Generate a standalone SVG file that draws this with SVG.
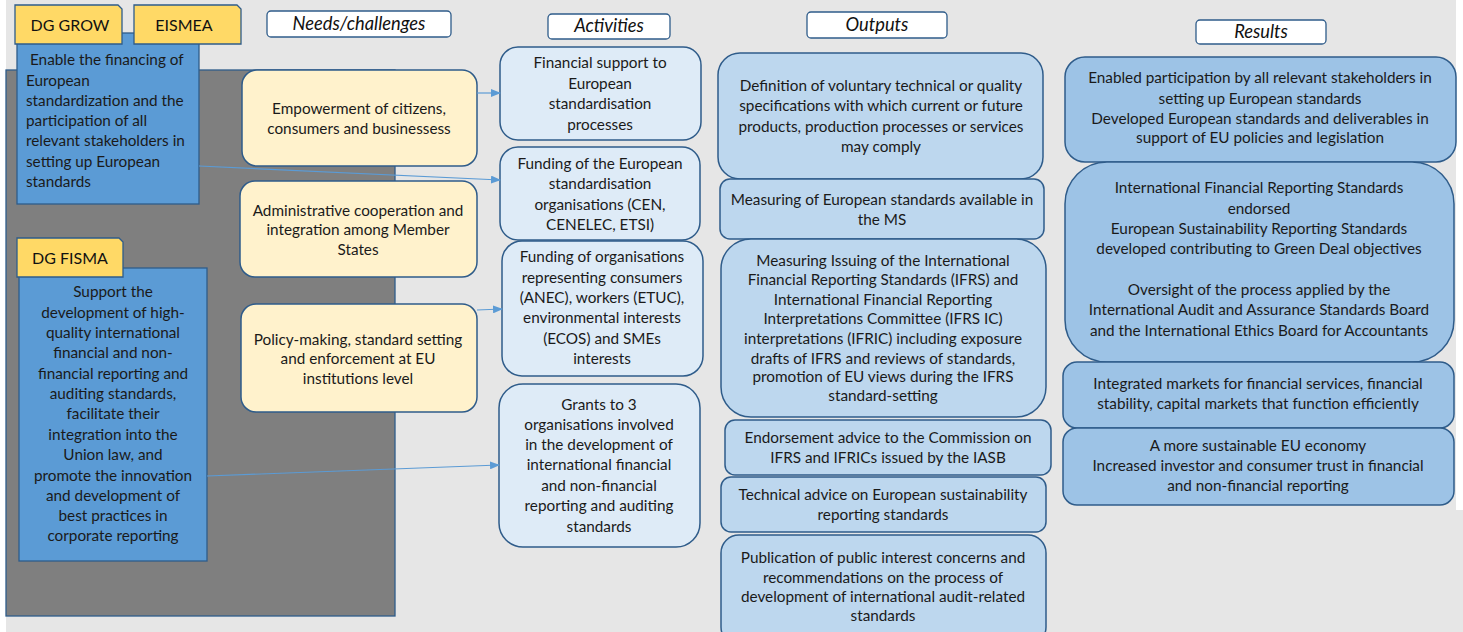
<svg xmlns="http://www.w3.org/2000/svg" width="1463" height="632" viewBox="0 0 1463 632">
<style>
.t{font-family:Lato,"Liberation Sans",sans-serif;font-size:15.3px;fill:#1a1a1a;text-anchor:middle}
.tl{text-anchor:start}
.h{font-family:Lato,"Liberation Sans",sans-serif;font-size:18.3px;font-style:italic;fill:#111;text-anchor:middle}
.tab{font-family:Lato,"Liberation Sans",sans-serif;font-size:16px;fill:#111;text-anchor:middle}
.hb{fill:#fff;stroke:#2f5c8a;stroke-width:1.3}
.tabs{fill:#ffd966;stroke:#2f5c8a;stroke-width:1.3}
.blue{fill:#5b9bd5;stroke:#2f5c8a;stroke-width:1.3}
.need{fill:#fff2cc;stroke:#2f5c8a;stroke-width:1.5}
.act{fill:#deebf7;stroke:#2f5c8a;stroke-width:1.5}
.out{fill:#bdd7ee;stroke:#2f5c8a;stroke-width:1.5}
.res{fill:#9dc3e6;stroke:#2f5c8a;stroke-width:1.5}
.c{stroke:#5b9bd5;stroke-width:1.2;fill:none;marker-end:url(#ah)}
</style>
<defs>
<marker id="ah" markerWidth="10" markerHeight="8" refX="9" refY="4" orient="auto" markerUnits="userSpaceOnUse">
<path d="M0,0 L10,4 L0,8 Z" fill="#5b9bd5"/>
</marker>
</defs>
<rect x="0" y="0" width="1463" height="632" fill="#e6e6e6"/>
<rect x="0" y="0" width="6" height="632" fill="#ffffff"/>
<rect x="1456" y="0" width="7" height="510" fill="#ffffff"/>
<rect id="panel" x="6" y="70" width="389" height="546" fill="#7f7f7f" stroke="#2f5c8a" stroke-width="1.3"/>

<g id="hdr-needs"><rect class="hb" x="267" y="11" width="184" height="26" rx="4"/><text class="h" x="359" y="30">Needs/challenges</text></g>
<g id="hdr-activities"><rect class="hb" x="548" y="14" width="122" height="25" rx="4"/><text class="h" x="609" y="32">Activities</text></g>
<g id="hdr-outputs"><rect class="hb" x="807" y="12" width="140" height="26" rx="4"/><text class="h" x="877" y="31">Outputs</text></g>
<g id="hdr-results"><rect class="hb" x="1196" y="20" width="130" height="24" rx="4"/><text class="h" x="1261" y="38">Results</text></g>

<g id="grow-box"><rect class="blue" x="17" y="33" width="182" height="171"/>
<text class="t tl" x="26"><tspan x="30" y="65">Enable the financing of</tspan><tspan x="26" y="86">European</tspan><tspan x="26" y="106">standardization and the</tspan><tspan x="26" y="126">participation of all</tspan><tspan x="26" y="146">relevant stakeholders in</tspan><tspan x="26" y="167">setting up European</tspan><tspan x="26" y="187">standards</tspan></text></g>
<g id="tab-grow"><path class="tabs" d="M15,5 H118 L122,9 V44 H15 Z"/><text class="tab" x="70" y="31">DG GROW</text></g>
<g id="tab-eismea"><path class="tabs" d="M134,5 H237 L241,9 V44 H134 Z"/><text class="tab" x="184" y="31">EISMEA</text></g>

<g id="fisma-box"><rect class="blue" x="19" y="268" width="188" height="293"/>
<text class="t"><tspan x="113" y="297">Support the</tspan><tspan x="113" y="318">development of high-</tspan><tspan x="113" y="338">quality international</tspan><tspan x="113" y="358">financial and non-</tspan><tspan x="113" y="379">financial reporting and</tspan><tspan x="113" y="399">auditing standards,</tspan><tspan x="113" y="419">facilitate their</tspan><tspan x="113" y="440">integration into the</tspan><tspan x="113" y="460">Union law, and</tspan><tspan x="113" y="481">promote the innovation</tspan><tspan x="113" y="501">and development of</tspan><tspan x="113" y="521">best practices in</tspan><tspan x="113" y="541">corporate reporting</tspan></text></g>
<g id="tab-fisma"><path class="tabs" d="M17,238 H119 L123,242 V277 H17 Z"/><text class="tab" x="70" y="264">DG FISMA</text></g>

<g id="need1"><rect class="need" x="242" y="70" width="235" height="96" rx="15"/><text class="t"><tspan x="359" y="114">Empowerment of citizens,</tspan><tspan x="359" y="134">consumers and businessess</tspan></text></g>
<g id="need2"><rect class="need" x="240" y="181" width="237" height="96" rx="15"/><text class="t"><tspan x="358" y="216">Administrative cooperation and</tspan><tspan x="358" y="235">integration among Member</tspan><tspan x="358" y="255">States</tspan></text></g>
<g id="need3"><rect class="need" x="241" y="304" width="236" height="108" rx="15"/><text class="t"><tspan x="358" y="345">Policy-making, standard setting</tspan><tspan x="358" y="364">and enforcement  at EU</tspan><tspan x="358" y="384">institutions level</tspan></text></g>

<g id="act1"><rect class="act" x="500" y="47" width="201" height="93" rx="18"/><text class="t"><tspan x="600" y="68">Financial support to</tspan><tspan x="600" y="89">European</tspan><tspan x="600" y="109">standardisation</tspan><tspan x="600" y="130">processes</tspan></text></g>
<g id="act2"><rect class="act" x="500" y="147" width="200" height="93" rx="18"/><text class="t"><tspan x="600" y="169">Funding of the European</tspan><tspan x="600" y="189">standardisation</tspan><tspan x="600" y="210">organisations (CEN,</tspan><tspan x="600" y="230">CENELEC, ETSI)</tspan></text></g>
<g id="act3"><rect class="act" x="502" y="241" width="201" height="135" rx="20"/><text class="t"><tspan x="602" y="262">Funding of organisations</tspan><tspan x="602" y="283">representing consumers</tspan><tspan x="602" y="303">(ANEC), workers (ETUC),</tspan><tspan x="602" y="323">environmental interests</tspan><tspan x="602" y="344">(ECOS) and SMEs</tspan><tspan x="602" y="364">interests</tspan></text></g>
<g id="act4"><rect class="act" x="499" y="384" width="201" height="163" rx="24"/><text class="t"><tspan x="599" y="410">Grants to 3</tspan><tspan x="599" y="430">organisations involved</tspan><tspan x="599" y="450">in the development of</tspan><tspan x="599" y="470">international financial</tspan><tspan x="599" y="491">and non-financial</tspan><tspan x="599" y="511">reporting and auditing</tspan><tspan x="599" y="532">standards</tspan></text></g>

<g id="out1"><rect class="out" x="718" y="53" width="325" height="126" rx="22"/><text class="t"><tspan x="881" y="91">Definition of voluntary technical or quality</tspan><tspan x="881" y="111">specifications with which current or future</tspan><tspan x="881" y="132">products, production processes or services</tspan><tspan x="881" y="152">may comply</tspan></text></g>
<g id="out2"><rect class="out" x="720" y="179" width="324" height="60" rx="10"/><text class="t"><tspan x="882" y="205">Measuring of European standards available in</tspan><tspan x="882" y="225">the MS</tspan></text></g>
<g id="out3"><rect class="out" x="721" y="239" width="325" height="178" rx="30"/><text class="t"><tspan x="883" y="266">Measuring Issuing of the International</tspan><tspan x="883" y="285">Financial Reporting Standards (IFRS) and</tspan><tspan x="883" y="305">International Financial Reporting</tspan><tspan x="883" y="324">Interpretations Committee (IFRS IC)</tspan><tspan x="883" y="344">interpretations (IFRIC) including exposure</tspan><tspan x="883" y="364">drafts of IFRS and reviews of standards,</tspan><tspan x="883" y="382">promotion of EU views during the IFRS</tspan><tspan x="883" y="401">standard-setting</tspan></text></g>
<g id="out4"><rect class="out" x="725" y="420" width="326" height="55" rx="10"/><text class="t"><tspan x="888" y="443">Endorsement advice to the Commission on</tspan><tspan x="888" y="463">IFRS and IFRICs issued by the IASB</tspan></text></g>
<g id="out5"><rect class="out" x="721" y="477" width="325" height="55" rx="10"/><text class="t"><tspan x="883" y="500">Technical advice on European sustainability</tspan><tspan x="883" y="520">reporting standards</tspan></text></g>
<g id="out6"><rect class="out" x="721" y="535" width="325" height="110" rx="18"/><text class="t"><tspan x="883" y="563">Publication of public interest concerns and</tspan><tspan x="883" y="583">recommendations on the process of</tspan><tspan x="883" y="602">development of international audit-related</tspan><tspan x="883" y="621">standards</tspan></text></g>

<g id="res1"><rect class="res" x="1065" y="57" width="391" height="105" rx="20"/><text class="t"><tspan x="1260" y="83">Enabled participation by all relevant stakeholders in</tspan><tspan x="1260" y="104">setting up European standards</tspan><tspan x="1260" y="124">Developed European standards and deliverables in</tspan><tspan x="1260" y="143">support of EU policies and legislation</tspan></text></g>
<g id="res2"><rect class="res" x="1065" y="162" width="389" height="200" rx="42"/><text class="t"><tspan x="1259" y="193">International Financial Reporting Standards</tspan><tspan x="1259" y="214">endorsed</tspan><tspan x="1259" y="234">European Sustainability Reporting Standards</tspan><tspan x="1259" y="254">developed contributing to Green Deal objectives</tspan><tspan x="1259" y="295">Oversight of the process applied by the</tspan><tspan x="1259" y="315">International Audit and Assurance Standards Board</tspan><tspan x="1259" y="336">and the International Ethics Board for Accountants</tspan></text></g>
<g id="res3"><rect class="res" x="1063" y="362" width="391" height="66" rx="14"/><text class="t"><tspan x="1258" y="389">Integrated markets for financial services, financial</tspan><tspan x="1258" y="409">stability, capital markets that function efficiently</tspan></text></g>
<g id="res4"><rect class="res" x="1063" y="428" width="391" height="77" rx="14"/><text class="t"><tspan x="1258" y="451">A more sustainable EU economy</tspan><tspan x="1258" y="471">Increased investor and consumer trust in financial</tspan><tspan x="1258" y="491">and non-financial reporting</tspan></text></g>

<g id="connectors">
<path class="c" d="M477,93 L500,93"/>
<path class="c" d="M199,166 L500,180"/>
<path class="c" d="M477,310 L502,309"/>
<path class="c" d="M207,476 L499,465"/>
</g>
</svg>
